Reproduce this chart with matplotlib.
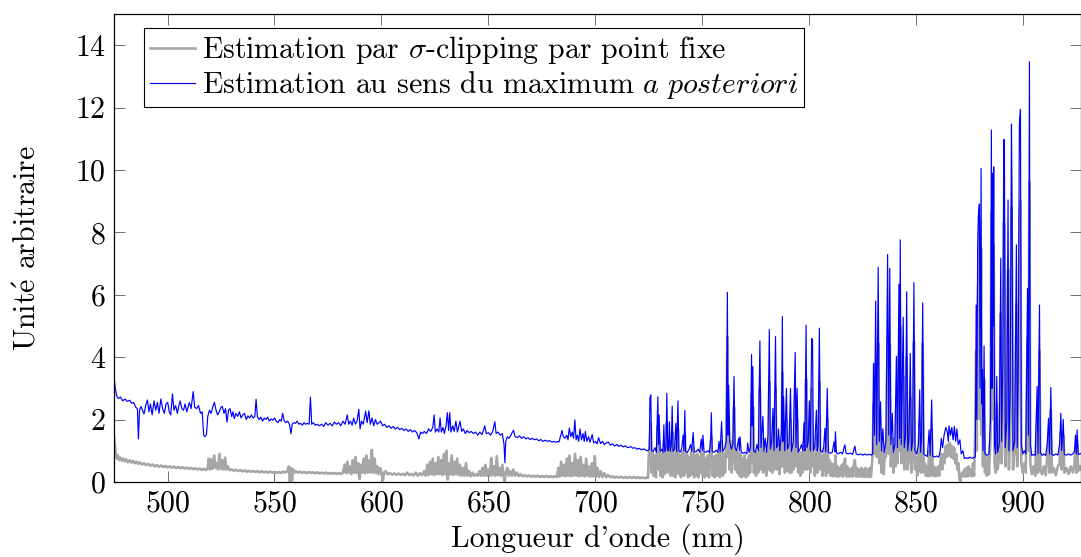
import matplotlib
matplotlib.use("Agg")
import matplotlib.pyplot as plt
import numpy as np

plt.rcParams['font.family'] = ['cmr10', 'DejaVu Serif']
plt.rcParams['mathtext.fontset'] = 'cm'
plt.rcParams['axes.unicode_minus'] = False
plt.rcParams['axes.formatter.use_mathtext'] = True

# Estimation au sens du maximum a posteriori (bleu)
map_pts = [
    (475.0, 3.35), (475.6, 3.0), (476.3, 2.75), (477.0, 2.68), (478.0, 2.72), (479.0, 2.6), (480.2, 2.66),
    (481.2, 2.58), (482.3, 2.62), (483.3, 2.52), (484.2, 2.55), (485.1, 2.4), (485.9, 2.35), (486.4, 1.38),
    (486.9, 2.3), (487.6, 2.42), (488.4, 2.28), (489.0, 2.18), (489.8, 2.45), (490.6, 2.63), (491.3, 2.25),
    (492.0, 2.5), (492.8, 2.15), (493.7, 2.6), (494.5, 2.3), (495.3, 2.55), (496.0, 2.2), (496.9, 2.66),
    (497.7, 2.35), (498.5, 2.2), (499.3, 2.5), (500.1, 2.55), (500.8, 2.25), (501.5, 2.15), (502.3, 2.82),
    (503.0, 2.3), (503.8, 2.45), (504.6, 2.2), (505.4, 2.48), (505.9, 2.6), (506.7, 2.35), (507.5, 2.3),
    (508.2, 2.5), (509.0, 2.25), (509.6, 2.4), (510.2, 2.55), (511.0, 2.35), (512.0, 2.9), (512.7, 2.4),
    (513.6, 2.35), (514.5, 2.45), (515.4, 2.2), (516.2, 2.25), (516.9, 1.5), (517.5, 1.45), (518.2, 1.52),
    (518.8, 2.1), (519.6, 2.3), (520.4, 2.2), (521.2, 2.42), (521.9, 2.55), (522.7, 2.3), (523.4, 2.15),
    (524.2, 2.25), (525.0, 2.4), (525.6, 2.42), (526.4, 2.2), (527.1, 2.35), (527.8, 1.92), (528.5, 2.3),
    (529.2, 2.35), (530.0, 2.1), (530.6, 2.25), (531.2, 2.03), (532.0, 2.2), (532.8, 2.1), (533.6, 2.25),
    (534.4, 2.05), (535.2, 2.15), (536.0, 2.2), (536.8, 2.0), (537.6, 2.12), (538.4, 2.05), (539.2, 2.15),
    (540.0, 2.05), (540.8, 2.1), (541.4, 2.65), (542.0, 2.1), (542.8, 2.0), (543.6, 2.08), (544.4, 1.95),
    (545.2, 2.05), (546.0, 2.0), (546.8, 2.08), (547.6, 1.95), (548.4, 2.02), (549.2, 1.98), (550.0, 2.05),
    (550.8, 1.95), (551.6, 1.9), (552.4, 2.0), (553.2, 1.95), (553.8, 2.2), (554.6, 1.95), (555.4, 1.9),
    (556.2, 1.95), (557.0, 1.85), (557.7, 1.55), (558.3, 1.85), (559.0, 1.9), (559.8, 1.88), (560.6, 1.95),
    (561.4, 1.85), (562.2, 1.88), (563.0, 1.82), (563.8, 1.9), (564.6, 1.85), (565.4, 1.88), (566.2, 1.85),
    (566.8, 2.72), (567.4, 1.85), (568.2, 1.9), (569.0, 1.82), (570.0, 1.85), (571.0, 1.8), (572.0, 1.85),
    (573.0, 1.78), (574.0, 1.9), (575.0, 1.82), (576.0, 1.88), (577.0, 1.8), (578.0, 1.92), (579.0, 1.85),
    (580.0, 1.9), (581.0, 1.8), (582.0, 1.95), (583.0, 1.85), (584.0, 2.15), (584.7, 1.85), (585.5, 1.95),
    (586.3, 1.82), (587.0, 2.05), (587.8, 1.85), (588.6, 1.95), (589.4, 2.33), (590.0, 1.7), (590.7, 1.95),
    (591.5, 1.85), (592.6, 2.27), (593.3, 1.9), (594.1, 2.28), (594.8, 1.85), (595.6, 2.05), (596.4, 1.8),
    (597.2, 2.0), (598.0, 1.85), (598.8, 1.9), (599.6, 1.95), (600.5, 1.8), (601.5, 1.85), (602.5, 1.75),
    (603.5, 1.8), (604.5, 1.72), (605.5, 1.78), (606.5, 1.7), (607.5, 1.75), (608.5, 1.68), (609.5, 1.72),
    (610.5, 1.65), (611.5, 1.7), (612.5, 1.62), (613.5, 1.68), (614.5, 1.6), (615.5, 1.65), (616.5, 1.58),
    (617.5, 1.38), (618.3, 1.6), (619.2, 1.55), (620.0, 1.62), (621.0, 1.55), (622.0, 1.7), (623.0, 1.62),
    (624.0, 1.75), (624.6, 2.15), (625.2, 1.6), (626.0, 1.7), (626.8, 1.6), (627.4, 2.05), (628.0, 1.6),
    (628.8, 1.75), (629.4, 1.55), (630.2, 1.8), (630.8, 2.22), (631.4, 1.65), (631.9, 2.22), (632.5, 1.6),
    (633.3, 1.8), (634.0, 1.62), (634.8, 1.95), (635.5, 1.6), (636.7, 1.95), (637.5, 1.62), (638.3, 1.7),
    (639.2, 1.55), (640.0, 1.65), (641.0, 1.58), (642.0, 1.62), (643.0, 1.55), (644.0, 1.6), (645.0, 1.5),
    (646.0, 1.6), (647.0, 1.52), (648.3, 1.8), (649.0, 1.55), (650.0, 1.58), (651.0, 1.5), (652.0, 1.62),
    (653.0, 1.93), (653.6, 1.55), (654.5, 1.6), (655.5, 1.5), (656.5, 1.55), (657.3, 1.2), (657.7, 0.62),
    (658.1, 1.3), (658.8, 1.45), (659.6, 1.4), (660.5, 1.5), (661.7, 1.66), (662.5, 1.45), (663.5, 1.42),
    (664.5, 1.48), (665.5, 1.4), (666.5, 1.45), (667.5, 1.38), (668.5, 1.42), (669.5, 1.36), (670.5, 1.4),
    (671.5, 1.35), (672.5, 1.38), (673.5, 1.32), (674.5, 1.36), (675.5, 1.3), (676.5, 1.34), (677.6, 1.3),
    (678.5, 1.33), (679.5, 1.28), (680.5, 1.3), (681.5, 1.27), (682.3, 1.3), (683.0, 1.28), (684.0, 1.55),
    (684.4, 1.65), (685.0, 1.45), (685.8, 1.4), (686.6, 1.5), (687.2, 1.35), (687.8, 1.73), (688.5, 1.45),
    (689.2, 1.6), (689.8, 1.4), (690.4, 1.99), (691.0, 1.35), (691.6, 1.5), (692.2, 1.3), (692.8, 1.7),
    (693.5, 1.35), (694.2, 1.55), (694.8, 1.3), (695.3, 1.62), (696.0, 1.3), (696.8, 1.45), (697.5, 1.27),
    (698.5, 1.52), (699.2, 1.25), (700.0, 1.3), (700.8, 1.22), (701.5, 1.42), (702.4, 1.23), (703.3, 1.3),
    (704.2, 1.2), (705.0, 1.25), (706.0, 1.28), (707.0, 1.18), (708.0, 1.22), (709.0, 1.15), (710.0, 1.2),
    (711.0, 1.14), (712.0, 1.18), (713.0, 1.12), (714.0, 1.16), (715.0, 1.1), (716.7, 1.13), (717.5, 1.08),
    (718.5, 1.1), (719.5, 1.05), (720.5, 1.08), (721.5, 1.03), (722.5, 1.06), (723.7, 1.02), (724.5, 1.0),
    (725.2, 1.05), (725.5, 2.7), (725.9, 2.79), (726.3, 1.0), (727.0, 0.98), (727.8, 1.1), (728.5, 0.95),
    (729.2, 2.73), (729.5, 1.2), (729.8, 2.15), (730.3, 0.98), (731.0, 1.05), (731.6, 0.95), (732.0, 1.83),
    (732.4, 0.97), (733.0, 1.1), (733.4, 2.84), (733.8, 1.0), (734.2, 1.05), (734.6, 1.93), (735.0, 0.98),
    (735.5, 1.2), (735.9, 2.43), (736.3, 0.98), (737.0, 1.05), (737.6, 1.88), (738.0, 0.97), (738.6, 2.6),
    (739.0, 1.0), (739.8, 0.96), (740.4, 1.1), (741.0, 1.5), (741.4, 1.0), (741.8, 2.29), (742.2, 0.98),
    (743.0, 0.95), (743.8, 1.05), (744.5, 1.2), (745.0, 0.98), (745.7, 1.59), (746.2, 0.97), (747.0, 0.96),
    (748.0, 1.05), (748.8, 0.95), (749.5, 1.38), (750.0, 1.0), (750.3, 1.5), (750.8, 0.96), (751.6, 0.95),
    (752.5, 1.0), (753.3, 0.95), (753.9, 1.4), (754.2, 2.22), (754.6, 0.98), (755.5, 0.95), (756.5, 1.02),
    (757.3, 0.95), (757.8, 1.3), (758.3, 0.97), (759.0, 1.93), (759.5, 0.98), (760.5, 1.1), (761.2, 1.3),
    (761.7, 6.08), (762.0, 1.5), (762.3, 3.1), (762.8, 1.3), (763.5, 1.05), (764.3, 1.2), (764.8, 3.38),
    (765.3, 1.1), (766.0, 1.0), (767.0, 1.4), (767.3, 1.0), (767.6, 1.45), (768.2, 0.95), (769.0, 0.92),
    (770.0, 0.95), (770.8, 0.9), (771.2, 1.25), (771.8, 0.95), (772.5, 1.1), (773.0, 4.09), (773.3, 1.8),
    (773.6, 3.7), (774.0, 1.0), (774.8, 0.95), (775.5, 1.2), (776.2, 1.0), (776.9, 4.52), (777.4, 1.1),
    (778.3, 2.1), (778.8, 0.98), (779.4, 1.4), (780.0, 0.95), (780.7, 1.5), (781.3, 4.89), (781.8, 1.05),
    (782.4, 1.3), (783.0, 2.36), (783.5, 1.0), (784.2, 4.66), (784.7, 1.1), (785.2, 1.2), (785.6, 1.7),
    (786.2, 1.0), (787.0, 1.6), (787.4, 5.3), (787.7, 1.3), (788.0, 2.73), (788.5, 1.0), (789.3, 3.0),
    (789.8, 1.05), (790.5, 1.2), (791.2, 3.0), (791.7, 0.98), (792.5, 1.3), (793.4, 4.15), (793.8, 1.1),
    (794.3, 3.0), (794.8, 0.95), (795.6, 1.05), (796.3, 1.2), (797.0, 1.0), (797.5, 1.9), (797.9, 1.0),
    (798.5, 5.03), (798.9, 1.1), (799.5, 1.3), (800.0, 2.6), (800.5, 1.0), (801.1, 4.6), (801.5, 4.55),
    (801.9, 1.0), (802.5, 1.1), (803.3, 2.3), (803.7, 1.0), (804.1, 1.2), (804.7, 4.93), (805.2, 1.0),
    (806.0, 0.95), (806.7, 1.1), (807.3, 1.72), (807.7, 0.97), (808.4, 3.0), (808.9, 0.95), (809.8, 0.92),
    (810.7, 0.95), (811.6, 1.29), (812.0, 0.96), (812.2, 1.61), (812.7, 0.93), (813.5, 0.9), (814.5, 0.95),
    (815.5, 0.9), (816.6, 1.19), (817.2, 0.92), (818.2, 0.9), (819.2, 0.93), (820.2, 0.88), (821.3, 1.15),
    (821.9, 0.9), (823.0, 0.87), (824.0, 0.9), (825.0, 0.86), (826.0, 0.9), (827.0, 0.86), (828.0, 0.89),
    (829.0, 0.86), (829.6, 0.9), (830.0, 3.8), (830.5, 1.5), (831.0, 5.8), (831.5, 1.2), (832.2, 6.88),
    (832.7, 1.3), (833.3, 2.57), (833.8, 1.0), (834.4, 1.7), (835.0, 0.95), (835.8, 1.3), (836.6, 7.29),
    (837.1, 1.5), (837.6, 6.85), (838.1, 1.2), (838.8, 2.2), (839.3, 0.95), (840.0, 1.2), (840.7, 4.02),
    (841.2, 1.1), (841.9, 6.34), (842.2, 1.4), (842.5, 7.76), (843.0, 1.2), (843.9, 5.28), (844.4, 1.1),
    (845.0, 1.5), (845.5, 6.1), (846.0, 1.0), (846.6, 1.4), (847.2, 4.12), (847.7, 1.0), (848.3, 1.3),
    (848.9, 6.39), (849.4, 1.0), (850.2, 0.9), (851.0, 1.2), (851.6, 2.95), (852.0, 0.95), (852.5, 1.5),
    (853.0, 5.74), (853.5, 0.9), (854.3, 0.85), (855.2, 0.82), (856.0, 1.67), (856.5, 0.85), (857.2, 2.63),
    (857.7, 0.82), (858.5, 0.8), (859.5, 0.83), (860.5, 0.8), (861.2, 1.0), (861.7, 1.4), (862.3, 1.1),
    (863.0, 1.5), (863.8, 1.75), (864.5, 1.6), (865.0, 1.3), (865.3, 1.8), (866.0, 1.5), (866.6, 1.75),
    (867.2, 1.35), (867.8, 1.78), (868.4, 1.3), (869.0, 1.7), (869.6, 1.2), (870.4, 1.35), (871.0, 0.9),
    (871.8, 1.0), (872.5, 0.75), (873.3, 0.78), (874.2, 0.75), (875.0, 0.8), (875.8, 0.76), (876.8, 0.78),
    (877.6, 0.8), (878.0, 5.67), (878.3, 2.0), (878.7, 7.54), (879.0, 8.5), (879.5, 8.91), (879.8, 3.0),
    (880.3, 10.05), (880.6, 2.5), (880.9, 3.6), (881.2, 1.0), (881.7, 4.36), (882.1, 0.9), (883.0, 0.85),
    (884.0, 0.9), (884.7, 2.0), (885.1, 11.28), (885.4, 3.0), (885.6, 9.9), (885.9, 5.0), (886.2, 10.1),
    (886.6, 1.2), (887.1, 0.9), (887.6, 3.38), (888.0, 0.95), (888.8, 1.2), (889.5, 7.17), (889.9, 1.3),
    (890.5, 4.0), (890.9, 10.98), (891.2, 10.96), (891.6, 1.1), (892.3, 2.0), (892.9, 9.04), (893.3, 1.0),
    (893.9, 3.0), (894.5, 11.47), (894.8, 8.8), (895.2, 1.0), (896.0, 1.3), (896.8, 7.6), (897.2, 1.1),
    (897.7, 4.0), (898.2, 11.47), (898.7, 11.94), (899.1, 1.2), (899.8, 0.9), (900.5, 1.0), (901.2, 0.9),
    (902.0, 6.2), (902.4, 1.5), (902.9, 13.47), (903.3, 1.2), (904.0, 0.85), (904.8, 0.88), (905.6, 0.85),
    (906.5, 3.06), (906.9, 0.9), (907.6, 5.67), (908.0, 0.95), (908.8, 0.85), (909.6, 0.9), (910.5, 0.85),
    (911.2, 1.2), (911.8, 2.04), (912.3, 0.9), (912.9, 3.03), (913.4, 0.88), (914.3, 0.85), (915.2, 0.9),
    (916.2, 0.86), (917.0, 1.2), (917.6, 2.2), (918.0, 1.0), (918.7, 2.0), (919.2, 0.88), (920.2, 0.86),
    (921.2, 0.9), (922.2, 0.86), (923.2, 0.9), (924.0, 1.0), (924.4, 1.5), (924.8, 0.9), (925.2, 1.67),
    (925.7, 0.88), (926.5, 0.9), (927.5, 0.92),
]

# Estimation par sigma-clipping par point fixe (gris)
sigma_pts = [
    (475.0, 1.45), (475.4, 1.2), (475.8, 0.95), (476.3, 0.75), (476.8, 0.85), (477.4, 0.7), (478.0, 0.78),
    (478.7, 0.68), (479.4, 0.75), (480.1, 0.66), (480.8, 0.72), (481.5, 0.63), (482.3, 0.7), (483.1, 0.62),
    (483.9, 0.68), (484.7, 0.6), (485.5, 0.65), (486.3, 0.58), (487.1, 0.63), (488.0, 0.56), (489.0, 0.6),
    (490.0, 0.54), (491.0, 0.58), (492.0, 0.52), (493.0, 0.56), (494.0, 0.5), (495.0, 0.54), (496.0, 0.49),
    (497.0, 0.53), (498.0, 0.48), (499.0, 0.51), (500.0, 0.47), (501.0, 0.5), (502.0, 0.46), (503.0, 0.49),
    (504.0, 0.45), (505.0, 0.48), (506.0, 0.44), (507.0, 0.47), (508.0, 0.43), (509.0, 0.46), (510.0, 0.42),
    (511.0, 0.45), (512.0, 0.41), (513.0, 0.44), (514.0, 0.4), (515.0, 0.43), (516.0, 0.39), (517.0, 0.42),
    (518.0, 0.38), (518.8, 0.45), (519.3, 0.75), (519.8, 0.4), (520.4, 0.72), (521.0, 0.42), (521.8, 0.85),
    (522.4, 0.45), (523.0, 0.6), (523.6, 0.4), (524.3, 0.9), (524.9, 0.42), (525.6, 0.7), (526.2, 0.4),
    (526.9, 0.78), (527.5, 0.4), (528.2, 0.5), (528.9, 0.38), (530.0, 0.4), (531.0, 0.36), (532.0, 0.39),
    (533.0, 0.35), (534.0, 0.38), (535.0, 0.34), (536.0, 0.37), (537.0, 0.33), (538.0, 0.36), (539.0, 0.33),
    (540.0, 0.35), (541.0, 0.32), (542.0, 0.35), (543.0, 0.31), (544.0, 0.34), (545.0, 0.31), (546.0, 0.33),
    (547.0, 0.3), (548.0, 0.33), (549.0, 0.3), (550.0, 0.32), (551.0, 0.29), (552.0, 0.32), (553.0, 0.29),
    (554.0, 0.33), (555.0, 0.3), (556.0, 0.35), (556.7, 0.5), (557.2, 0.02), (557.7, 0.45), (558.2, 0.05),
    (558.7, 0.4), (559.3, 0.3), (560.0, 0.34), (561.0, 0.3), (562.0, 0.33), (563.0, 0.29), (564.0, 0.32),
    (565.0, 0.28), (566.0, 0.32), (567.0, 0.29), (568.0, 0.31), (569.0, 0.28), (570.0, 0.31), (571.0, 0.27),
    (572.0, 0.3), (573.0, 0.27), (574.0, 0.3), (575.0, 0.26), (576.0, 0.29), (577.0, 0.26), (578.0, 0.29),
    (579.0, 0.26), (580.0, 0.28), (581.0, 0.26), (582.0, 0.3), (582.8, 0.55), (583.4, 0.28), (584.0, 0.65),
    (584.6, 0.3), (585.3, 0.5), (585.9, 0.25), (586.6, 0.7), (587.2, 0.3), (587.9, 0.8), (588.5, 0.28),
    (589.2, 0.6), (589.8, 0.1), (590.4, 0.55), (591.0, 0.3), (591.7, 0.75), (592.3, 0.28), (593.0, 0.85),
    (593.6, 0.3), (594.3, 0.7), (594.9, 0.3), (595.5, 1.03), (596.1, 0.3), (596.8, 0.75), (597.4, 0.28),
    (598.1, 0.5), (598.8, 0.25), (599.5, 0.45), (600.2, 0.22), (600.7, 0.05), (601.2, 0.3), (602.0, 0.35),
    (602.8, 0.25), (604.0, 0.28), (605.0, 0.24), (606.0, 0.27), (607.0, 0.23), (608.0, 0.27), (609.0, 0.23),
    (610.0, 0.26), (611.0, 0.22), (612.0, 0.3), (613.0, 0.22), (614.0, 0.26), (615.0, 0.21), (616.0, 0.3),
    (617.0, 0.2), (618.0, 0.28), (619.0, 0.22), (620.0, 0.35), (620.7, 0.2), (621.4, 0.55), (622.0, 0.22),
    (622.7, 0.65), (623.3, 0.25), (624.0, 0.75), (624.6, 0.22), (625.3, 0.6), (625.9, 0.25), (626.6, 0.8),
    (627.2, 0.25), (627.9, 0.7), (628.5, 0.22), (629.2, 0.9), (629.8, 0.25), (630.4, 1.0), (631.0, 0.08),
    (631.5, 0.6), (632.1, 0.25), (632.8, 0.85), (633.4, 0.22), (634.1, 0.65), (634.7, 0.25), (635.4, 0.75),
    (636.0, 0.22), (636.7, 0.55), (637.3, 0.2), (638.0, 0.45), (638.7, 0.2), (639.5, 0.6), (640.2, 0.2),
    (641.0, 0.35), (641.8, 0.18), (642.6, 0.3), (643.4, 0.2), (644.2, 0.25), (645.0, 0.2), (645.8, 0.35),
    (646.5, 0.2), (647.2, 0.45), (647.9, 0.2), (648.6, 0.55), (649.3, 0.2), (650.0, 0.4), (650.7, 0.2),
    (651.3, 0.77), (651.9, 0.22), (652.6, 0.5), (653.2, 0.2), (653.9, 0.83), (654.5, 0.22), (655.2, 0.45),
    (655.8, 0.2), (656.5, 0.55), (657.1, 0.2), (657.6, 0.02), (658.1, 0.3), (658.8, 0.45), (659.5, 0.2),
    (660.2, 0.35), (661.0, 0.2), (661.7, 0.4), (662.5, 0.2), (663.3, 0.3), (664.2, 0.19), (665.0, 0.25),
    (666.0, 0.18), (667.0, 0.22), (668.0, 0.18), (669.0, 0.21), (670.0, 0.17), (671.0, 0.2), (672.0, 0.17),
    (673.0, 0.2), (674.0, 0.16), (675.0, 0.19), (676.0, 0.16), (677.0, 0.19), (678.0, 0.16), (679.0, 0.18),
    (680.0, 0.16), (681.0, 0.18), (682.0, 0.16), (682.7, 0.45), (683.3, 0.17), (684.0, 0.65), (684.6, 0.2),
    (685.3, 0.55), (685.9, 0.18), (686.6, 0.75), (687.2, 0.2), (687.9, 0.85), (688.5, 0.18), (689.2, 0.6),
    (689.8, 0.2), (690.5, 0.9), (691.1, 0.2), (691.8, 0.7), (692.4, 0.18), (693.1, 0.8), (693.7, 0.2),
    (694.4, 0.55), (695.0, 0.18), (695.7, 0.75), (696.3, 0.2), (697.0, 0.5), (697.6, 0.17), (698.3, 0.6),
    (699.0, 0.18), (699.7, 0.83), (700.3, 0.17), (701.0, 0.45), (701.7, 0.16), (702.5, 0.35), (703.3, 0.16),
    (704.2, 0.28), (705.1, 0.15), (706.0, 0.22), (707.0, 0.15), (708.0, 0.18), (709.0, 0.14), (710.0, 0.17),
    (711.0, 0.14), (712.0, 0.17), (713.0, 0.13), (714.0, 0.16), (715.0, 0.13), (716.0, 0.16), (717.0, 0.13),
    (718.0, 0.16), (719.0, 0.13), (720.0, 0.15), (721.0, 0.12), (722.0, 0.15), (723.0, 0.12), (724.0, 0.14),
    (724.6, 0.13), (725.0, 0.9), (725.4, 1.3), (725.9, 1.9), (726.3, 0.3), (726.8, 0.95), (727.3, 0.2),
    (727.8, 0.85), (728.3, 0.15), (728.8, 0.9), (729.2, 1.8), (729.6, 0.4), (730.0, 1.3), (730.4, 0.2),
    (730.9, 0.9), (731.4, 0.15), (731.9, 1.2), (732.4, 0.25), (732.9, 0.85), (733.4, 1.9), (733.8, 0.3),
    (734.3, 0.95), (734.7, 1.3), (735.1, 0.2), (735.5, 0.8), (735.9, 1.6), (736.3, 0.2), (736.8, 0.9),
    (737.3, 0.15), (737.7, 1.2), (738.2, 0.3), (738.6, 1.7), (739.0, 0.25), (739.5, 0.85), (740.0, 0.15),
    (740.5, 0.9), (741.0, 1.0), (741.4, 0.2), (741.8, 1.5), (742.3, 0.3), (742.8, 0.9), (743.3, 0.15),
    (743.8, 0.8), (744.3, 0.2), (744.8, 0.95), (745.3, 0.25), (745.7, 1.1), (746.2, 0.15), (746.7, 0.85),
    (747.2, 0.2), (747.7, 0.9), (748.2, 0.15), (748.7, 0.8), (749.2, 0.3), (749.6, 0.95), (750.1, 0.2),
    (750.6, 0.9), (751.1, 0.15), (751.6, 0.75), (752.1, 0.2), (752.6, 0.85), (753.1, 0.15), (753.6, 0.9),
    (754.2, 1.45), (754.7, 0.2), (755.2, 0.8), (755.7, 0.15), (756.2, 0.85), (756.7, 0.2), (757.2, 0.9),
    (757.7, 0.95), (758.2, 0.15), (758.7, 0.85), (759.1, 1.3), (759.6, 0.2), (760.1, 0.9), (760.6, 0.3),
    (761.1, 1.2), (761.7, 4.66), (762.0, 0.8), (762.3, 2.2), (762.7, 0.4), (763.2, 1.3), (763.7, 0.3),
    (764.3, 1.2), (764.8, 2.4), (765.3, 0.4), (765.8, 1.0), (766.3, 0.3), (766.8, 0.95), (767.3, 0.2),
    (767.8, 0.9), (768.3, 0.15), (768.8, 0.75), (769.3, 0.2), (769.8, 0.85), (770.3, 0.15), (770.8, 0.7),
    (771.3, 0.2), (771.8, 0.85), (772.3, 0.3), (772.7, 1.0), (773.0, 2.8), (773.4, 0.6), (773.7, 2.4),
    (774.1, 0.3), (774.6, 0.9), (775.1, 0.2), (775.6, 0.95), (776.1, 0.3), (776.5, 1.2), (776.9, 3.0),
    (777.4, 0.4), (777.9, 1.4), (778.4, 0.3), (778.9, 0.9), (779.4, 0.95), (779.9, 0.2), (780.4, 1.0),
    (780.9, 0.4), (781.3, 3.2), (781.8, 0.35), (782.3, 1.0), (782.7, 0.3), (783.1, 1.6), (783.6, 0.4),
    (784.2, 3.0), (784.7, 0.4), (785.2, 0.9), (785.6, 1.2), (786.1, 0.25), (786.6, 1.0), (787.0, 0.5),
    (787.4, 3.5), (787.8, 0.5), (788.1, 1.9), (788.6, 0.3), (789.3, 2.0), (789.8, 0.35), (790.3, 0.95),
    (790.8, 0.3), (791.2, 2.0), (791.7, 0.3), (792.2, 0.9), (792.7, 0.4), (793.4, 2.8), (793.8, 0.5),
    (794.3, 2.0), (794.8, 0.3), (795.3, 0.9), (795.8, 0.2), (796.3, 0.95), (796.8, 0.3), (797.5, 1.3),
    (798.0, 0.4), (798.5, 3.3), (799.0, 0.4), (799.5, 0.9), (800.0, 1.7), (800.5, 0.3), (801.1, 3.0),
    (801.6, 0.5), (802.1, 0.9), (802.6, 0.2), (803.3, 1.5), (803.8, 0.3), (804.3, 0.9), (804.7, 3.2),
    (805.2, 0.4), (805.7, 0.85), (806.2, 0.2), (806.7, 0.8), (807.3, 1.1), (807.8, 0.2), (808.4, 2.0),
    (808.9, 0.3), (809.4, 0.7), (809.9, 0.2), (810.4, 0.6), (810.9, 0.18), (811.4, 0.55), (811.8, 0.2),
    (812.2, 0.85), (812.7, 0.18), (813.2, 0.5), (813.7, 0.17), (814.2, 0.45), (814.7, 0.2), (815.2, 0.55),
    (815.7, 0.17), (816.2, 0.6), (816.7, 0.75), (817.2, 0.18), (817.7, 0.5), (818.2, 0.17), (818.7, 0.4),
    (819.2, 0.18), (819.7, 0.45), (820.2, 0.17), (820.7, 0.5), (821.3, 0.7), (821.8, 0.18), (822.3, 0.45),
    (822.8, 0.17), (823.3, 0.4), (823.8, 0.18), (824.3, 0.45), (824.8, 0.17), (825.3, 0.4), (825.8, 0.16),
    (826.3, 0.45), (826.8, 0.17), (827.3, 0.4), (827.8, 0.16), (828.3, 0.45), (828.8, 0.17), (829.3, 0.6),
    (829.7, 1.0), (830.0, 2.5), (830.5, 0.9), (831.0, 3.8), (831.5, 0.8), (832.2, 4.45), (832.7, 0.6),
    (833.3, 1.7), (833.8, 0.3), (834.3, 1.0), (834.8, 0.25), (835.3, 0.9), (835.8, 0.8), (836.2, 1.8),
    (836.6, 4.6), (837.1, 0.9), (837.6, 4.4), (838.1, 0.5), (838.8, 1.4), (839.3, 0.3), (839.8, 0.9),
    (840.3, 0.5), (840.7, 2.6), (841.2, 0.6), (841.9, 4.1), (842.2, 1.0), (842.5, 5.0), (843.0, 0.6),
    (843.5, 1.5), (843.9, 3.4), (844.4, 0.4), (845.0, 1.0), (845.5, 4.0), (846.0, 0.4), (846.6, 0.9),
    (847.2, 2.7), (847.7, 0.3), (848.3, 0.9), (848.9, 4.5), (849.4, 0.4), (849.9, 0.8), (850.4, 0.2),
    (851.0, 0.8), (851.6, 1.9), (852.1, 0.3), (852.6, 0.9), (853.0, 4.45), (853.5, 0.3), (854.0, 0.6),
    (854.5, 0.2), (855.0, 0.5), (855.5, 0.18), (856.0, 1.0), (856.5, 0.2), (857.2, 1.7), (857.7, 0.2),
    (858.2, 0.5), (858.7, 0.18), (859.2, 0.45), (859.7, 0.2), (860.2, 0.5), (860.7, 0.2), (861.2, 0.6),
    (861.7, 0.9), (862.2, 0.4), (862.7, 0.9), (863.2, 0.6), (863.7, 1.15), (864.2, 0.8), (864.7, 1.2),
    (865.2, 0.85), (865.7, 1.25), (866.2, 0.8), (866.7, 1.15), (867.2, 0.75), (867.7, 1.1), (868.2, 0.6),
    (868.7, 0.9), (869.2, 0.4), (869.7, 0.6), (870.2, 0.1), (870.6, 0.0), (871.0, 0.25), (871.5, 0.3),
    (872.0, 0.18), (872.5, 0.4), (873.0, 0.17), (873.5, 0.45), (874.0, 0.18), (874.5, 0.5), (875.0, 0.2),
    (875.5, 0.4), (876.0, 0.18), (876.5, 0.6), (877.0, 0.2), (877.5, 1.5), (878.0, 4.2), (878.3, 1.0),
    (878.7, 5.6), (879.0, 6.4), (879.5, 8.4), (879.8, 2.0), (880.3, 7.5), (880.6, 1.5), (880.9, 2.7),
    (881.2, 0.5), (881.7, 3.3), (882.1, 0.3), (882.6, 0.6), (883.0, 0.2), (883.5, 0.8), (884.0, 0.25),
    (884.7, 1.5), (885.1, 8.6), (885.4, 2.0), (885.6, 7.4), (885.9, 3.0), (886.2, 7.6), (886.6, 0.6),
    (887.1, 0.3), (887.6, 2.5), (888.0, 0.4), (888.8, 0.8), (889.5, 5.4), (889.9, 0.6), (890.5, 3.0),
    (890.9, 8.3), (891.2, 8.2), (891.6, 0.5), (892.3, 1.5), (892.9, 6.8), (893.3, 0.4), (893.9, 2.2),
    (894.5, 8.8), (894.8, 6.6), (895.2, 0.4), (896.0, 1.0), (896.8, 5.7), (897.2, 0.5), (897.7, 3.0),
    (898.2, 8.6), (898.7, 9.0), (899.1, 0.6), (899.8, 0.3), (900.5, 0.6), (901.2, 0.3), (902.0, 4.6),
    (902.4, 1.0), (902.9, 9.6), (903.3, 0.6), (904.0, 0.25), (904.8, 0.5), (905.6, 0.2), (906.5, 2.3),
    (906.9, 0.3), (907.6, 4.2), (908.0, 0.4), (908.8, 0.25), (909.6, 0.5), (910.5, 0.22), (911.2, 0.8),
    (911.8, 1.5), (912.3, 0.3), (912.9, 2.3), (913.4, 0.3), (914.3, 0.45), (915.2, 0.22), (916.2, 0.5),
    (917.0, 0.6), (917.6, 1.6), (918.0, 0.4), (918.7, 1.5), (919.2, 0.3), (920.2, 0.45), (921.2, 0.25),
    (922.2, 0.5), (923.2, 0.3), (924.0, 0.6), (924.4, 1.1), (924.8, 0.3), (925.2, 1.2), (925.7, 0.35),
    (926.5, 0.5), (927.5, 0.35),
]

map_wl, map_val = np.array(map_pts).T
sig_wl, sig_val = np.array(sigma_pts).T

xticks = [500, 550, 600, 650, 700, 750, 800, 850, 900]
yticks = [0, 2, 4, 6, 8, 10, 12, 14]

fs = 21.5
fig = plt.figure(figsize=(10.81, 5.57), dpi=100)
ax = fig.add_axes([0.1055, 0.1347, 0.8945, 0.8402])

ax.plot(sig_wl, sig_val, color='#a6a6a6', lw=1.9,
        label=r'Estimation par $\sigma$-clipping par point fixe')
ax.plot(map_wl, map_val, color='#0000ff', lw=0.85,
        label=r'Estimation au sens du maximum $\mathit{a\ posteriori}$')

ax.set_xlim(475, 927)
ax.set_ylim(0, 15)
ax.set_xticks(xticks)
ax.set_yticks(yticks)
ax.tick_params(direction='in', top=True, right=True, length=8, width=0.6,
               color='0.35', labelsize=fs, pad=6)
for s in ax.spines.values():
    s.set_linewidth(0.9)

ax.set_xlabel("Longueur d'onde (nm)", fontsize=fs, labelpad=4)
ax.set_ylabel(r"Unit$\mathrm{\acute{e}}$ arbitraire", fontsize=fs, labelpad=24)

leg = ax.legend(loc='upper left', bbox_to_anchor=(0.031, 0.97), borderaxespad=0,
                fontsize=fs, fancybox=False, framealpha=1, edgecolor='black',
                handlelength=1.5, handletextpad=0.25, borderpad=0.2, labelspacing=0.1)
leg.get_frame().set_linewidth(0.8)

fig.savefig('out.png', dpi=100)
